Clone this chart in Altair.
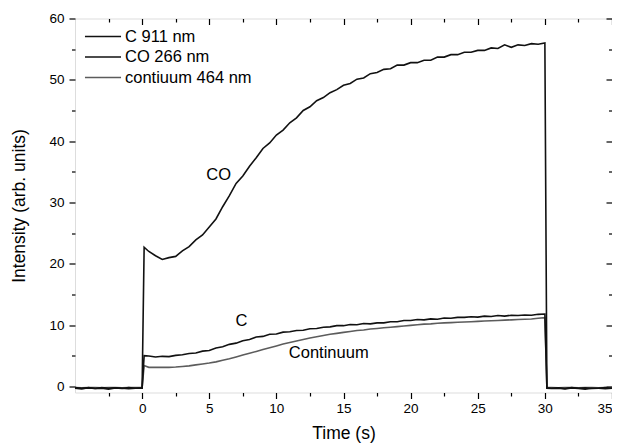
import altair as alt
import pandas as pd

# ---------------- data ----------------
time_s = [-5.0, -4.5, -4.0, -3.5, -3.0, -2.5, -2.0, -1.5, -1.0, -0.5, 0.0, 0.15,
          0.5, 1.0, 1.5, 2.0, 2.5, 3.0, 3.5, 4.0, 4.5, 5.0,
          5.5, 6.0, 6.5, 7.0, 7.5, 8.0, 8.5, 9.0, 9.5, 10.0,
          10.5, 11.0, 11.5, 12.0, 12.5, 13.0, 13.5, 14.0, 14.5, 15.0,
          15.5, 16.0, 16.5, 17.0, 17.5, 18.0, 18.5, 19.0, 19.5, 20.0,
          20.5, 21.0, 21.5, 22.0, 22.5, 23.0, 23.5, 24.0, 24.5, 25.0,
          25.5, 26.0, 26.5, 27.0, 27.5, 28.0, 28.5, 29.0, 29.5, 30.0,
          30.15, 30.5, 31.0, 31.5, 32.0, 32.5, 33.0, 33.5, 34.0, 34.5, 35.0]

co266 = [-0.3, -0.4, -0.2, -0.35, -0.3, -0.45, -0.25, -0.3, -0.4, -0.3, -0.3, 22.7,
         22.0, 21.3, 20.7, 21.0, 21.2, 22.1, 22.8, 23.9, 24.7, 26.0,
         27.3, 29.3, 31.1, 33.1, 34.3, 35.9, 37.3, 38.8, 39.7, 41.0,
         41.8, 43.0, 43.8, 45.0, 45.6, 46.6, 47.1, 47.9, 48.4, 49.1,
         49.4, 50.1, 50.3, 51.0, 51.2, 51.7, 51.8, 52.4, 52.4, 52.8,
         52.8, 53.2, 53.2, 53.7, 53.7, 54.1, 54.1, 54.5, 54.5, 54.8,
         54.8, 55.2, 55.1, 55.7, 55.3, 55.7, 55.6, 55.9, 55.8, 56.0,
         -0.3, -0.35, -0.3, -0.4, -0.25, -0.35, -0.45, -0.3, -0.3, -0.4, -0.3]

c911 = [-0.2, -0.3, -0.25, -0.35, -0.2, -0.3, -0.25, -0.35, -0.2, -0.3, -0.25, 5.0,
        4.95, 4.8, 4.9, 4.85, 5.05, 5.15, 5.35, 5.45, 5.75, 5.85,
        6.25, 6.45, 6.85, 7.05, 7.45, 7.65, 8.05, 8.15, 8.5, 8.55,
        8.85, 8.9, 9.1, 9.15, 9.4, 9.45, 9.65, 9.7, 9.9, 9.9,
        10.1, 10.05, 10.25, 10.2, 10.35, 10.35, 10.55, 10.55, 10.75, 10.75,
        10.9, 10.85, 11.0, 10.95, 11.15, 11.1, 11.25, 11.25, 11.35, 11.3,
        11.45, 11.4, 11.55, 11.45, 11.6, 11.55, 11.65, 11.6, 11.75, 11.8,
        -0.25, -0.3, -0.25, -0.35, -0.2, -0.3, -0.25, -0.35, -0.3, -0.2, -0.3]

cont464 = [-0.2, -0.25, -0.2, -0.2, -0.25, -0.2, -0.2, -0.25, -0.2, -0.2, -0.2, 3.4,
           3.1, 3.1, 3.1, 3.1, 3.15, 3.25, 3.35, 3.5, 3.65, 3.8,
           4.0, 4.25, 4.5, 4.8, 5.1, 5.4, 5.7, 6.0, 6.3, 6.6,
           6.9, 7.15, 7.4, 7.65, 7.9, 8.1, 8.3, 8.5, 8.65, 8.8,
           8.95, 9.1, 9.2, 9.35, 9.45, 9.55, 9.65, 9.75, 9.85, 9.95,
           10.05, 10.15, 10.2, 10.3, 10.35, 10.4, 10.45, 10.5, 10.55, 10.6,
           10.65, 10.7, 10.75, 10.8, 10.85, 10.9, 10.95, 11.0, 11.1, 11.2,
           -0.2, -0.2, -0.25, -0.2, -0.2, -0.25, -0.2, -0.2, -0.25, -0.2, -0.2]

series_names = ["C 911 nm", "CO 266 nm", "contiuum 464 nm"]
series_colors = ["#111111", "#111111", "#5c5c5c"]
series_widths = [1.6, 1.6, 1.3]

note_text = ["CO", "C", "Continuum"]
note_t = [5.7, 7.4, 13.9]
note_v = [34.4, 10.7, 5.5]

x_tick_values = [-2.5, 0, 2.5, 5, 7.5, 10, 12.5, 15, 17.5, 20, 22.5, 25, 27.5, 30, 32.5, 35]
y_tick_values = [0, 5, 10, 15, 20, 25, 30, 35, 40, 45, 50, 55, 60]

# ---------------- tables ----------------
rows = []
for name, vals in [("contiuum 464 nm", cont464), ("C 911 nm", c911), ("CO 266 nm", co266)]:
    for t, v in zip(time_s, vals):
        rows.append({"t": t, "v": v, "series": name})
df = pd.DataFrame(rows)
notes = pd.DataFrame({"label": note_text, "t": note_t, "v": note_v})

W, H = 537, 374
FONT = "Liberation Sans"

xscale = alt.Scale(domain=[-5, 35], nice=False, zero=False)
yscale = alt.Scale(domain=[-1, 60], nice=False, zero=False)

x_major = "datum.value % 5 === 0"
y_major = "datum.value % 10 === 0"
x_tick = {"condition": {"test": x_major, "value": 6}, "value": 3.5}
y_tick = {"condition": {"test": y_major, "value": 6}, "value": 3.5}

common_axis = dict(domain=False, tickColor="black", tickWidth=1.2, grid=False,
                   labelFont=FONT, labelFontSize=13.5, labelColor="black",
                   titleFont=FONT, titleFontSize=17.5, titleColor="black",
                   titleFontWeight="normal", labelOverlap=False)

x_axis = alt.Axis(orient="bottom", values=x_tick_values, title="Time (s)",
                  labelExpr=f"{x_major} ? format(datum.value, 'd') : ''",
                  tickSize=x_tick, labelPadding=3, titlePadding=9,
                  labelFlush=True, **common_axis)
y_axis = alt.Axis(orient="left", values=y_tick_values, title="Intensity (arb. units)",
                  labelExpr=f"{y_major} ? format(datum.value, 'd') : ''",
                  tickSize=y_tick, labelPadding=5, titlePadding=20,
                  labelFlush=False, **common_axis)

lines = alt.Chart(df).mark_line().encode(
    x=alt.X("t:Q", scale=xscale, axis=x_axis),
    y=alt.Y("v:Q", scale=yscale, axis=y_axis),
    color=alt.Color("series:N",
                    scale=alt.Scale(domain=series_names, range=series_colors),
                    legend=alt.Legend(title=None, orient="none", legendX=9, legendY=8,
                                      symbolType="stroke", symbolSize=1300,
                                      symbolStrokeWidth=1.6, labelFont=FONT,
                                      labelFontSize=16.5, labelColor="black",
                                      clipHeight=20, rowPadding=0.5, labelOffset=3,
                                      padding=0)),
    strokeWidth=alt.StrokeWidth("series:N",
                                scale=alt.Scale(domain=series_names, range=series_widths),
                                legend=None),
)

labels = alt.Chart(notes).mark_text(font=FONT, fontSize=16.5, color="black",
                                    align="center", baseline="middle").encode(
    x=alt.X("t:Q", scale=xscale, axis=None),
    y=alt.Y("v:Q", scale=yscale, axis=None),
    text="label:N",
)

# mirrored axes on top and right with inward ticks
frame = alt.Chart(df).mark_line(opacity=0).encode(
    x=alt.X("t:Q", scale=xscale,
            axis=alt.Axis(orient="bottom", offset=-H, values=x_tick_values, labels=False,
                          title=None, domain=False, grid=False, tickSize=x_tick,
                          tickColor="black", tickWidth=1.2)),
    y=alt.Y("v:Q", scale=yscale,
            axis=alt.Axis(orient="left", offset=-W, values=y_tick_values, labels=False,
                          title=None, domain=False, grid=False, tickSize=y_tick,
                          tickColor="black", tickWidth=1.2)),
    detail="series:N",
)

chart = alt.layer(lines, labels, frame).resolve_axis(
    x="independent", y="independent"
).properties(
    width=W, height=H,
    autosize=alt.AutoSizeParams(type="none"),
    padding={"left": 67, "top": 10.5, "right": 0, "bottom": 51},
).configure_view(stroke="black", strokeWidth=1.4).configure(background="white")

chart.save("out.html", embed_options={"renderer": "svg", "actions": False})
